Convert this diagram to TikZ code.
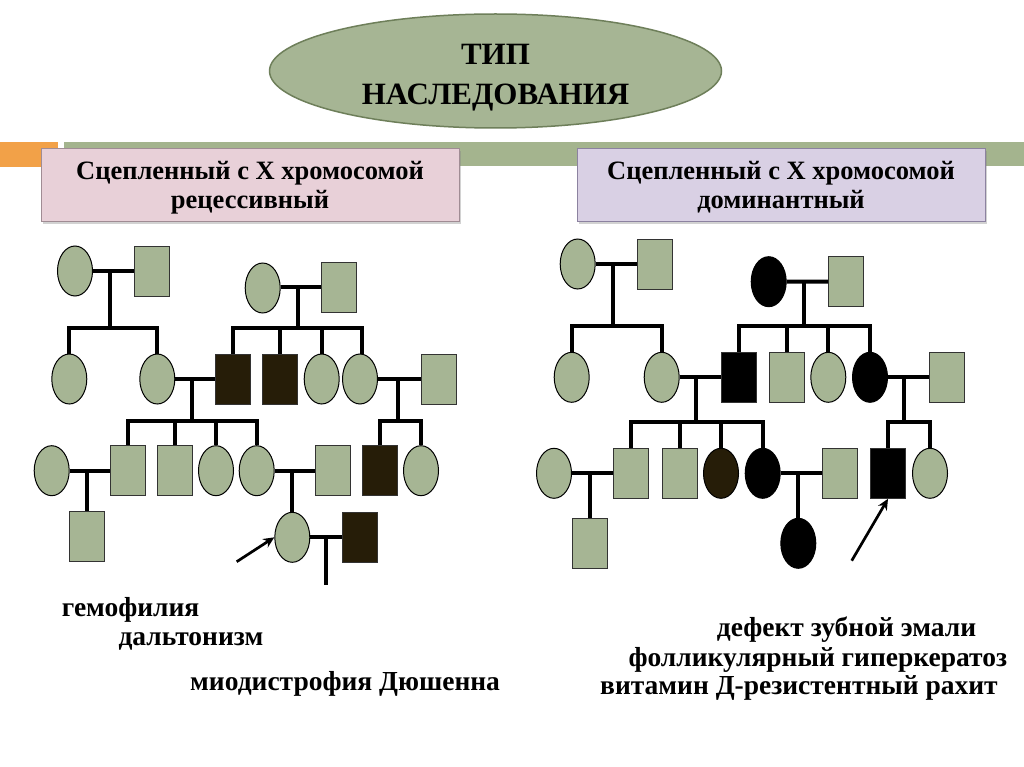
\documentclass[tikz,border=0pt]{standalone}
\usepackage{fontspec}
\setmainfont{Liberation Serif}
\usetikzlibrary{shapes.geometric,shadows,arrows.meta}
\definecolor{sage}{RGB}{166,181,148}
\definecolor{sageedge}{RGB}{110,127,90}
\definecolor{darkaff}{RGB}{38,29,8}
\definecolor{orangebar}{RGB}{242,161,72}
\definecolor{greenbar}{RGB}{164,180,142}
\definecolor{pinkbox}{RGB}{232,208,216}
\definecolor{pinkedge}{RGB}{160,140,148}
\definecolor{lavbox}{RGB}{217,208,228}
\definecolor{lavedge}{RGB}{140,130,160}
\tikzset{
  fem/.style={ellipse,draw=black,line width=1pt,fill=sage,minimum width=35pt,minimum height=50pt,inner sep=0pt},
  mal/.style={rectangle,draw=black!80,line width=1pt,fill=sage,minimum width=35pt,minimum height=50pt,inner sep=0pt},
  big/.style={minimum height=52pt,minimum width=36pt},
  affL/.style={fill=darkaff},
  affR/.style={fill=black},
  link/.style={line width=4pt,draw=black},
  pointer/.style={line width=2.7pt,-{Stealth[length=11pt,width=10pt]}},
  hdrbox/.style={rectangle,line width=0.8pt,minimum width=418pt,minimum height=73pt,
     drop shadow={shadow xshift=2pt,shadow yshift=-3pt,opacity=0.35}},
  hdrtxt/.style={anchor=base,inner sep=0pt,font=\fontsize{26.5}{30}\selectfont\bfseries},
  lbl/.style={anchor=base west,inner sep=0pt,font=\fontsize{27.5}{30}\selectfont\bfseries}
}
\begin{document}
\begin{tikzpicture}[x=1pt,y=-1pt]
\useasboundingbox (0,0) rectangle (1024,767);
\fill[white] (0,0) rectangle (1024,767);
% header bars
\fill[orangebar] (0,142) rectangle (58,167);
\fill[greenbar] (64,142) rectangle (1024,166);
% title
\node[ellipse,draw=sageedge,line width=1.5pt,fill=sage,minimum width=452pt,minimum height=114pt] (title) at (495.5,71) {};
\node[anchor=base,inner sep=0pt,font=\fontsize{31}{40}\selectfont\bfseries] (t1) at (495.5,65) {ТИП};
\node[anchor=base,inner sep=0pt,font=\fontsize{31}{40}\selectfont\bfseries] (t2) at (495.5,105) {НАСЛЕДОВАНИЯ};
% category boxes
\node[hdrbox,fill=pinkbox,draw=pinkedge] (rec) at (250,184.5) {};
\node[hdrtxt] (rec1) at (250,179.3) {Сцепленный с Х хромосомой};
\node[hdrtxt] (rec2) at (250,208.3) {рецессивный};
\node[hdrbox,fill=lavbox,draw=lavedge,minimum width=408pt] (dom) at (781,184.5) {};
\node[hdrtxt] (dom1) at (781,179.3) {Сцепленный с Х хромосомой};
\node[hdrtxt] (dom2) at (781,208.3) {доминантный};

% ================= LEFT PEDIGREE =================
\node[fem] (A) at (75,271) {};
\node[mal] (B) at (151.7,271) {};
\node[fem] (C) at (69.3,379) {};
\node[fem] (D) at (157.3,379) {};
\node[fem] (E) at (262.7,288) {};
\node[mal] (F) at (339.2,287.3) {};
\node[mal,affL] (G) at (233.3,379) {};
\node[mal,affL] (H) at (280.3,379) {};
\node[fem] (I) at (321.7,379) {};
\node[fem] (J) at (360,379) {};
\node[mal] (K) at (438.5,379) {};
\node[fem] (L) at (51.7,470.7) {};
\node[mal] (M) at (128,470.7) {};
\node[mal] (N) at (175,470.7) {};
\node[fem] (O) at (216,470.7) {};
\node[fem] (P) at (256.7,470.7) {};
\node[mal] (R) at (333.2,470.7) {};
\node[mal,affL] (T) at (380,470.7) {};
\node[fem] (U) at (421,470.7) {};
\node[mal] (Q) at (86.7,536.7) {};
\node[fem] (S) at (292.3,537.3) {};
\node[mal,affL] (V) at (359.5,537.3) {};

\coordinate (ab) at (110,271);   \coordinate (abk) at (110,328);
\coordinate (ef) at (297.7,287.3); \coordinate (efk) at (297.7,328);
\coordinate (dg) at (192.3,379); \coordinate (dgk) at (192.3,421);
\coordinate (jk) at (397.7,379); \coordinate (jkk) at (397.7,421);
\coordinate (lm) at (86.7,470.7);
\coordinate (pr) at (292.3,470.7);
\coordinate (sv) at (325.7,537.3); \coordinate (svend) at (325.7,585);
\coordinate (arrL) at (236.7,561.7);

\begin{scope}[link]
\draw (A.east) -- (B.west);
\draw (ab) -- (abk);
\draw (C.north) |- (abk) -| (D.north);
\draw (E.east |- ef) -- (F.west);
\draw (ef) -- (efk);
\draw (G.north) |- (efk) -| (362.3,354);
\draw (H.north) -- (H.north |- efk);
\draw (I.north) -- (I.north |- efk);
\draw (D.east) -- (G.west);
\draw (dg) -- (dgk);
\draw (M.north) |- (dgk) -| (P.north);
\draw (N.north) -- (N.north |- dgk);
\draw (O.north) -- (O.north |- dgk);
\draw (J.east) -- (K.west);
\draw (jk) -- (jkk);
\draw (T.north) |- (jkk) -| (U.north);
\draw (L.east) -- (M.west);
\draw (lm) -- (Q.north);
\draw (P.east) -- (R.west);
\draw (pr) -- (S.north);
\draw (S.east) -- (V.west);
\draw (sv) -- (svend);
\end{scope}
\draw[pointer] (arrL) -- (S.west);

% ================= RIGHT PEDIGREE =================
\begin{scope}[every node/.append style={big}]
\node[fem] (A2) at (577.7,264) {};
\node[mal] (B2) at (655.3,264) {};
\node[fem] (C2) at (571.7,377.3) {};
\node[fem] (D2) at (661.7,377.3) {};
\node[fem,affR] (E2) at (768.7,281.7) {};
\node[mal] (F2) at (846,281.5) {};
\node[mal,affR] (G2) at (739,377.3) {};
\node[mal] (H2) at (786.7,377.3) {};
\node[fem] (I2) at (828.3,377.3) {};
\node[fem,affR] (J2) at (870,377.3) {};
\node[mal] (K2) at (947,377.3) {};
\node[fem] (L2) at (554,473.3) {};
\node[mal] (M2) at (631.3,473.3) {};
\node[mal] (N2) at (679.5,473.3) {};
\node[fem,affL] (O2) at (721,473.3) {};
\node[fem,affR] (P2) at (762.7,473.3) {};
\node[mal] (R2) at (840.3,473.3) {};
\node[mal,affR] (T2) at (888,473.3) {};
\node[fem] (U2) at (930,473.3) {};
\node[mal] (Q2) at (589.7,543.3) {};
\node[fem,affR] (S2) at (798.3,543.3) {};
\end{scope}

\coordinate (ab2) at (613.3,264);  \coordinate (abk2) at (613.3,326);
\coordinate (ef2) at (804,281.7);  \coordinate (efk2) at (804,326);
\coordinate (dg2) at (696,377.3);  \coordinate (dgk2) at (696,421.7);
\coordinate (jk2) at (904,377.3);  \coordinate (jkk2) at (904,421.7);
\coordinate (lm2) at (589.7,473.3);
\coordinate (pr2) at (798.3,473.3);
\coordinate (arrR) at (851.7,560.7);

\begin{scope}[link]
\draw (A2.east) -- (B2.west);
\draw (ab2) -- (abk2);
\draw (C2.north) |- (abk2) -| (D2.north);
\draw (E2.east) -- (F2.west);
\draw (ef2) -- (efk2);
\draw (G2.north) |- (efk2) -| (J2.north);
\draw (H2.north) -- (H2.north |- efk2);
\draw (I2.north) -- (I2.north |- efk2);
\draw (D2.east) -- (G2.west);
\draw (dg2) -- (dgk2);
\draw (M2.north) |- (dgk2) -| (P2.north);
\draw (N2.north) -- (N2.north |- dgk2);
\draw (O2.north) -- (O2.north |- dgk2);
\draw (J2.east) -- (K2.west);
\draw (jk2) -- (jkk2);
\draw (T2.north) |- (jkk2) -| (U2.north);
\draw (L2.east) -- (M2.west);
\draw (lm2) -- (Q2.north);
\draw (P2.east) -- (R2.west);
\draw (pr2) -- (S2.north);
\end{scope}
\draw[pointer] (arrR) -- (T2.south);

% ================= LABELS =================
\node[lbl] (l1) at (61.7,616.7) {гемофилия};
\node[lbl] (l2) at (118.3,645.7) {дальтонизм};
\node[lbl] (l3) at (190,690) {миодистрофия Дюшенна};
\node[lbl] (r1) at (716.7,636.7) {дефект зубной эмали};
\node[lbl] (r2) at (628.3,666.7) {фолликулярный гиперкератоз};
\node[lbl] (r3) at (600,694.3) {витамин Д-резистентный рахит};
\end{tikzpicture}
\end{document}
